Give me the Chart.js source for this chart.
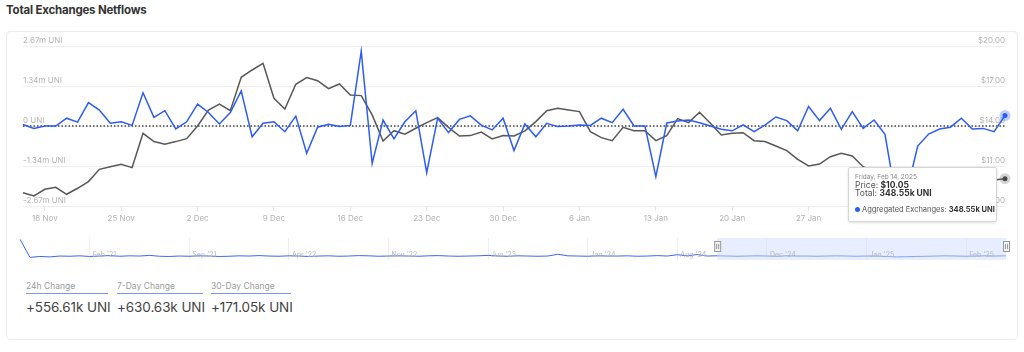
<!DOCTYPE html>
<html lang="en">
<head>
  <meta charset="UTF-8">
  <title>Total Exchanges Netflows</title>
  <script src="https://cdn.jsdelivr.net/npm/chart.js"></script>
  <style>
    html, body { margin: 0; padding: 0; background: #fff; }
    body { width: 1024px; height: 352px; position: relative; overflow: hidden; font-family: Inter, "Noto Sans", Arial, sans-serif; }
    h1 { position: absolute; left: 6px; top: 3px; margin: 0; font-size: 11.5px; font-weight: 700; color: #333; letter-spacing: -0.2px; }
    .card { position: absolute; left: 6px; top: 31px; width: 1012px; height: 309px; border: 1px solid #ececec; border-radius: 4px; box-sizing: border-box; }
    #mainChart { position: absolute; left: 0; top: 0; }
    #navChart { position: absolute; left: 0; top: 234px; }
    .tip { position: absolute; left: 848px; top: 167px; width: 149px; height: 55px; box-sizing: border-box; background: #fff; border: 1px solid #d6d6d6; border-radius: 2px; box-shadow: 0 1px 3px rgba(0,0,0,0.12); color: #555; }
    .tip div { position: absolute; left: 6px; white-space: nowrap; }
    .tip b { color: #333; font-weight: 700; }
    .tip .date { top: 5px; font-size: 6.5px; color: #888; }
    .tip .price { top: 12px; font-size: 8.5px; }
    .tip .total { top: 20px; font-size: 8.5px; }
    .tip .agg { top: 37px; font-size: 7.5px; }
    .tip .dot { display: inline-block; width: 5px; height: 5px; border-radius: 50%; background: #2d5cf6; margin-right: 2px; vertical-align: 0; }
    .stat { position: absolute; top: 280px; }
    .stat .lbl { font-size: 8.5px; color: #9a9a9a; height: 13px; line-height: 12px; border-bottom: 1.5px solid #7895f7; white-space: nowrap; }
    .stat .val { font-size: 13.5px; color: #444; margin-top: 4px; line-height: 18px; white-space: nowrap; letter-spacing: -0.1px; }
  </style>
</head>
<body>
  <h1>Total Exchanges Netflows</h1>
  <div class="card"></div>
  <canvas id="mainChart" width="1024" height="232"></canvas>
  <canvas id="navChart" width="1024" height="30"></canvas>
  <div class="tip">
    <div class="date">Friday, Feb 14, 2025</div>
    <div class="price">Price: <b>$10.05</b></div>
    <div class="total">Total: <b>348.55k UNI</b></div>
    <div class="agg"><span class="dot"></span>Aggregated Exchanges: <b>348.55k UNI</b></div>
  </div>
  <div class="stat" style="left:26px;width:82px"><div class="lbl">24h Change</div><div class="val">+556.61k UNI</div></div>
  <div class="stat" style="left:117px;width:86px"><div class="lbl">7-Day Change</div><div class="val">+630.63k UNI</div></div>
  <div class="stat" style="left:211px;width:80px"><div class="lbl">30-Day Change</div><div class="val">+171.05k UNI</div></div>
  <script>
    // daily points, 16 Nov 2024 .. 14 Feb 2025
    const monthSpans = [['Nov', 16, 30], ['Dec', 1, 31], ['Jan', 1, 31], ['Feb', 1, 14]];
    const weekTicks = ['18 Nov', '25 Nov', '2 Dec', '9 Dec', '16 Dec', '23 Dec', '30 Dec',
      '6 Jan', '13 Jan', '20 Jan', '27 Jan', '3 Feb', '10 Feb'];

    // aggregated exchange netflow, millions of UNI
    const netflowM = [
      0.05, -0.08, 0.00, 0.00, 0.26, 0.13, 0.78, 0.53, 0.09, 0.14,
      0.02, 1.11, 0.29, 0.51, -0.10, 0.14, 0.73, 0.45, 0.07, 0.45,
      1.17, -0.36, 0.09, 0.14, -0.19, 0.33, -0.91, -0.04, 0.06, -0.02,
      0.02, 2.50, -1.25, 0.20, -0.43, 0.14, 0.51, -1.56, 0.26, -0.22,
      0.22, 0.34, 0.03, -0.13, 0.26, -0.82, 0.07, -0.36, 0.09, -0.02,
      0.00, 0.03, 0.02, 0.26, 0.11, 0.56, 0.00, 0.00, -1.69, 0.10,
      0.17, 0.20, 0.11, 0.00, -0.11, -0.16, 0.04, -0.19, 0.03, 0.30,
      0.18, -0.16, 0.65, 0.18, 0.59, -0.11, 0.48, -0.08, 0.20, -0.28,
      -2.40, -2.20, -0.67, -0.27, -0.10, -0.04, 0.26, -0.10, -0.08, -0.19,
      0.34855
    ];
    // UNI price, USD
    const priceUsd = [
      9.00, 8.75, 9.25, 9.40, 8.88, 9.33, 9.83, 10.75, 10.95, 11.13,
      10.88, 13.45, 12.83, 12.63, 12.83, 13.05, 14.00, 15.20, 15.65, 15.15,
      17.65, 18.20, 18.70, 16.08, 15.28, 17.13, 17.63, 17.40, 16.80, 17.15,
      16.33, 16.28, 14.83, 12.88, 13.65, 13.38, 13.83, 14.25, 14.63, 13.90,
      13.25, 13.28, 13.55, 13.03, 13.28, 13.25, 13.63, 14.33, 15.15, 15.33,
      15.20, 15.08, 13.58, 13.13, 12.90, 13.90, 13.65, 13.65, 12.90, 13.28,
      14.55, 14.25, 15.03, 14.20, 13.33, 13.45, 13.50, 12.90, 12.83, 12.50,
      12.15, 11.50, 11.00, 11.15, 11.70, 11.95, 11.75, 10.95, 10.60, 10.30,
      9.90, 9.60, 9.40, 9.60, 9.80, 9.90, 10.10, 10.00, 9.90, 9.95,
      10.05
    ];
    const flowTicks = [-2.67, -1.335, 0, 1.335, 2.67];
    const flowTickLabels = ['-2.67m UNI', '-1.34m UNI', '0 UNI', '1.34m UNI', '2.67m UNI'];

    // navigator (full history, ordinal)
    const navValues = [
      9.4, 1.2, 1.6, 1.4, 1.8, 1.7, 1.9, 1.6, 1.8, 2.0, 1.7, 1.9, 1.8, 2.1, 1.7, 1.6, 1.8, 1.7, 1.9, 1.8,
      1.6, 1.7, 1.9, 1.8, 2.0, 1.8, 1.7, 1.9, 1.8, 1.6, 1.8, 1.9, 1.7, 1.8, 2.0, 1.9, 1.7, 1.8, 1.9, 1.8,
      1.7, 1.9, 2.0, 1.8, 1.7, 1.8, 1.9, 2.1, 1.8, 1.7, 1.9, 1.8, 1.7, 1.8, 2.6, 1.9, 1.8, 1.7, 1.9, 1.8,
      1.8, 1.9, 1.7, 1.8, 2.0, 1.8, 2.4, 1.9, 2.5, 1.8, 1.9, 1.8, 1.7, 1.8, 1.9, 1.8, 1.7, 1.9, 1.8, 1.8,
      1.7, 1.8, 1.9, 1.8, 1.7, 1.8, 1.8, 1.6, 1.4, 1.5, 1.6, 1.7, 1.8, 1.9, 1.8, 1.7, 1.8, 1.9, 1.8, 1.9
    ];
    const navTicks = [
      { at: 7, label: "Feb '21" }, { at: 17, label: "Sep '21" }, { at: 27, label: "Apr '22" },
      { at: 37, label: "Nov '22" }, { at: 47, label: "Jun '23" }, { at: 57, label: "Jan '24" },
      { at: 66, label: "Aug '24" }, { at: 75, label: "Dec '24" }, { at: 85, label: "Jan '25" },
      { at: 95, label: "Feb '25" }
    ];
    const navSelectFrom = 70;

    const dayLabels = [];
    monthSpans.forEach(([m, a, b]) => { for (let d = a; d <= b; d++) dayLabels.push(d + ' ' + m); });
    const last = netflowM.length - 1;
    const BLUE = '#2d5cf6';
    const GREY = '#585858';
    const tickFont = { family: 'Inter, "Noto Sans", Arial, sans-serif', size: 8 };

    new Chart(document.getElementById('mainChart').getContext('2d'), {
      type: 'line',
      data: {
        labels: dayLabels,
        datasets: [
          {
            label: 'Aggregated Exchanges', data: netflowM, yAxisID: 'y',
            borderColor: BLUE, borderWidth: 1.5, tension: 0, clip: false,
            pointRadius: c => c.dataIndex === last ? 2.5 : 0,
            pointBorderWidth: 6, pointBorderColor: 'rgba(45,92,246,0.3)', pointBackgroundColor: BLUE,
            order: 1
          },
          {
            label: 'Price', data: priceUsd, yAxisID: 'y1',
            borderColor: GREY, borderWidth: 1.5, tension: 0, clip: false,
            pointRadius: c => c.dataIndex === last ? 2.5 : 0,
            pointBorderWidth: 6, pointBorderColor: 'rgba(88,88,88,0.25)', pointBackgroundColor: '#444',
            order: 2
          },
          {
            label: 'zero', data: dayLabels.map(() => 0), yAxisID: 'y',
            borderColor: '#444', borderWidth: 1.5, borderDash: [1.5, 2], pointRadius: 0,
            order: 3
          }
        ]
      },
      options: {
        responsive: false,
        animation: false,
        layout: { padding: { left: 23, right: 19, top: 46, bottom: 5.4 } },
        plugins: { legend: { display: false }, tooltip: { enabled: false } },
        scales: {
          x: {
            grid: { drawOnChartArea: false, drawTicks: true, tickLength: 5, color: '#e4e4e4' },
            border: { display: false },
            ticks: {
              autoSkip: false, maxRotation: 0, padding: 3, color: '#b3b3b3', font: tickFont,
              callback: (v, i) => weekTicks.includes(dayLabels[i]) ? dayLabels[i] : null
            }
          },
          y: {
            position: 'left', min: -2.67, max: 2.67,
            afterBuildTicks: axis => { axis.ticks = flowTicks.map(v => ({ value: v })); },
            grid: { color: '#efefef', drawTicks: false },
            border: { display: false },
            ticks: {
              mirror: true, padding: 0, labelOffset: -5, color: '#b3b3b3', font: tickFont,
              callback: v => flowTickLabels[flowTicks.indexOf(v)]
            }
          },
          y1: {
            position: 'right', min: 8, max: 20,
            ticks: {
              stepSize: 3, mirror: true, padding: 0, labelOffset: -5, color: '#b3b3b3', font: tickFont,
              callback: v => '$' + v.toFixed(2)
            },
            grid: { display: false, drawTicks: false },
            border: { display: false }
          }
        }
      }
    });

    const navOverlay = {
      id: 'navOverlay',
      afterDatasetsDraw(chart) {
        const { ctx, chartArea: a, scales: { x } } = chart;
        const x0 = x.getPixelForValue(navSelectFrom);
        ctx.save();
        ctx.fillStyle = 'rgba(205,222,255,0.5)';
        ctx.fillRect(x0, a.top, a.right - x0, a.bottom - a.top);
        ctx.font = '7px Inter, "Noto Sans", Arial, sans-serif';
        ctx.fillStyle = '#b8b8b8';
        ctx.textBaseline = 'middle';
        navTicks.forEach(t => ctx.fillText(t.label, x.getPixelForValue(t.at) + 3, a.bottom - 5));
        [x0, a.right].forEach(hx => {
          ctx.fillStyle = '#f2f2f2';
          ctx.strokeStyle = '#9a9a9a';
          ctx.lineWidth = 1;
          ctx.fillRect(hx - 3, a.top + 3.5, 6, 10);
          ctx.strokeRect(hx - 3 + 0.5, a.top + 3.5, 6, 10);
          ctx.beginPath();
          ctx.moveTo(hx - 0.5, a.top + 6); ctx.lineTo(hx - 0.5, a.top + 11);
          ctx.moveTo(hx + 1.5, a.top + 6); ctx.lineTo(hx + 1.5, a.top + 11);
          ctx.stroke();
        });
        ctx.restore();
      }
    };

    new Chart(document.getElementById('navChart').getContext('2d'), {
      type: 'line',
      data: {
        labels: navValues.map((_, i) => i),
        datasets: [{ data: navValues, borderColor: '#3f66f2', borderWidth: 1, pointRadius: 0, tension: 0 }]
      },
      options: {
        responsive: false,
        animation: false,
        layout: { padding: { left: 20, right: 18, top: 4, bottom: 4 } },
        plugins: { legend: { display: false }, tooltip: { enabled: false } },
        scales: {
          x: {
            afterBuildTicks: axis => { axis.ticks = navTicks.map(t => ({ value: t.at })); },
            grid: { color: '#eeeeee', drawTicks: false },
            border: { display: false },
            ticks: { display: false }
          },
          y: { display: false, min: 0, max: 10 }
        }
      },
      plugins: [navOverlay]
    });
  </script>
</body>
</html>
